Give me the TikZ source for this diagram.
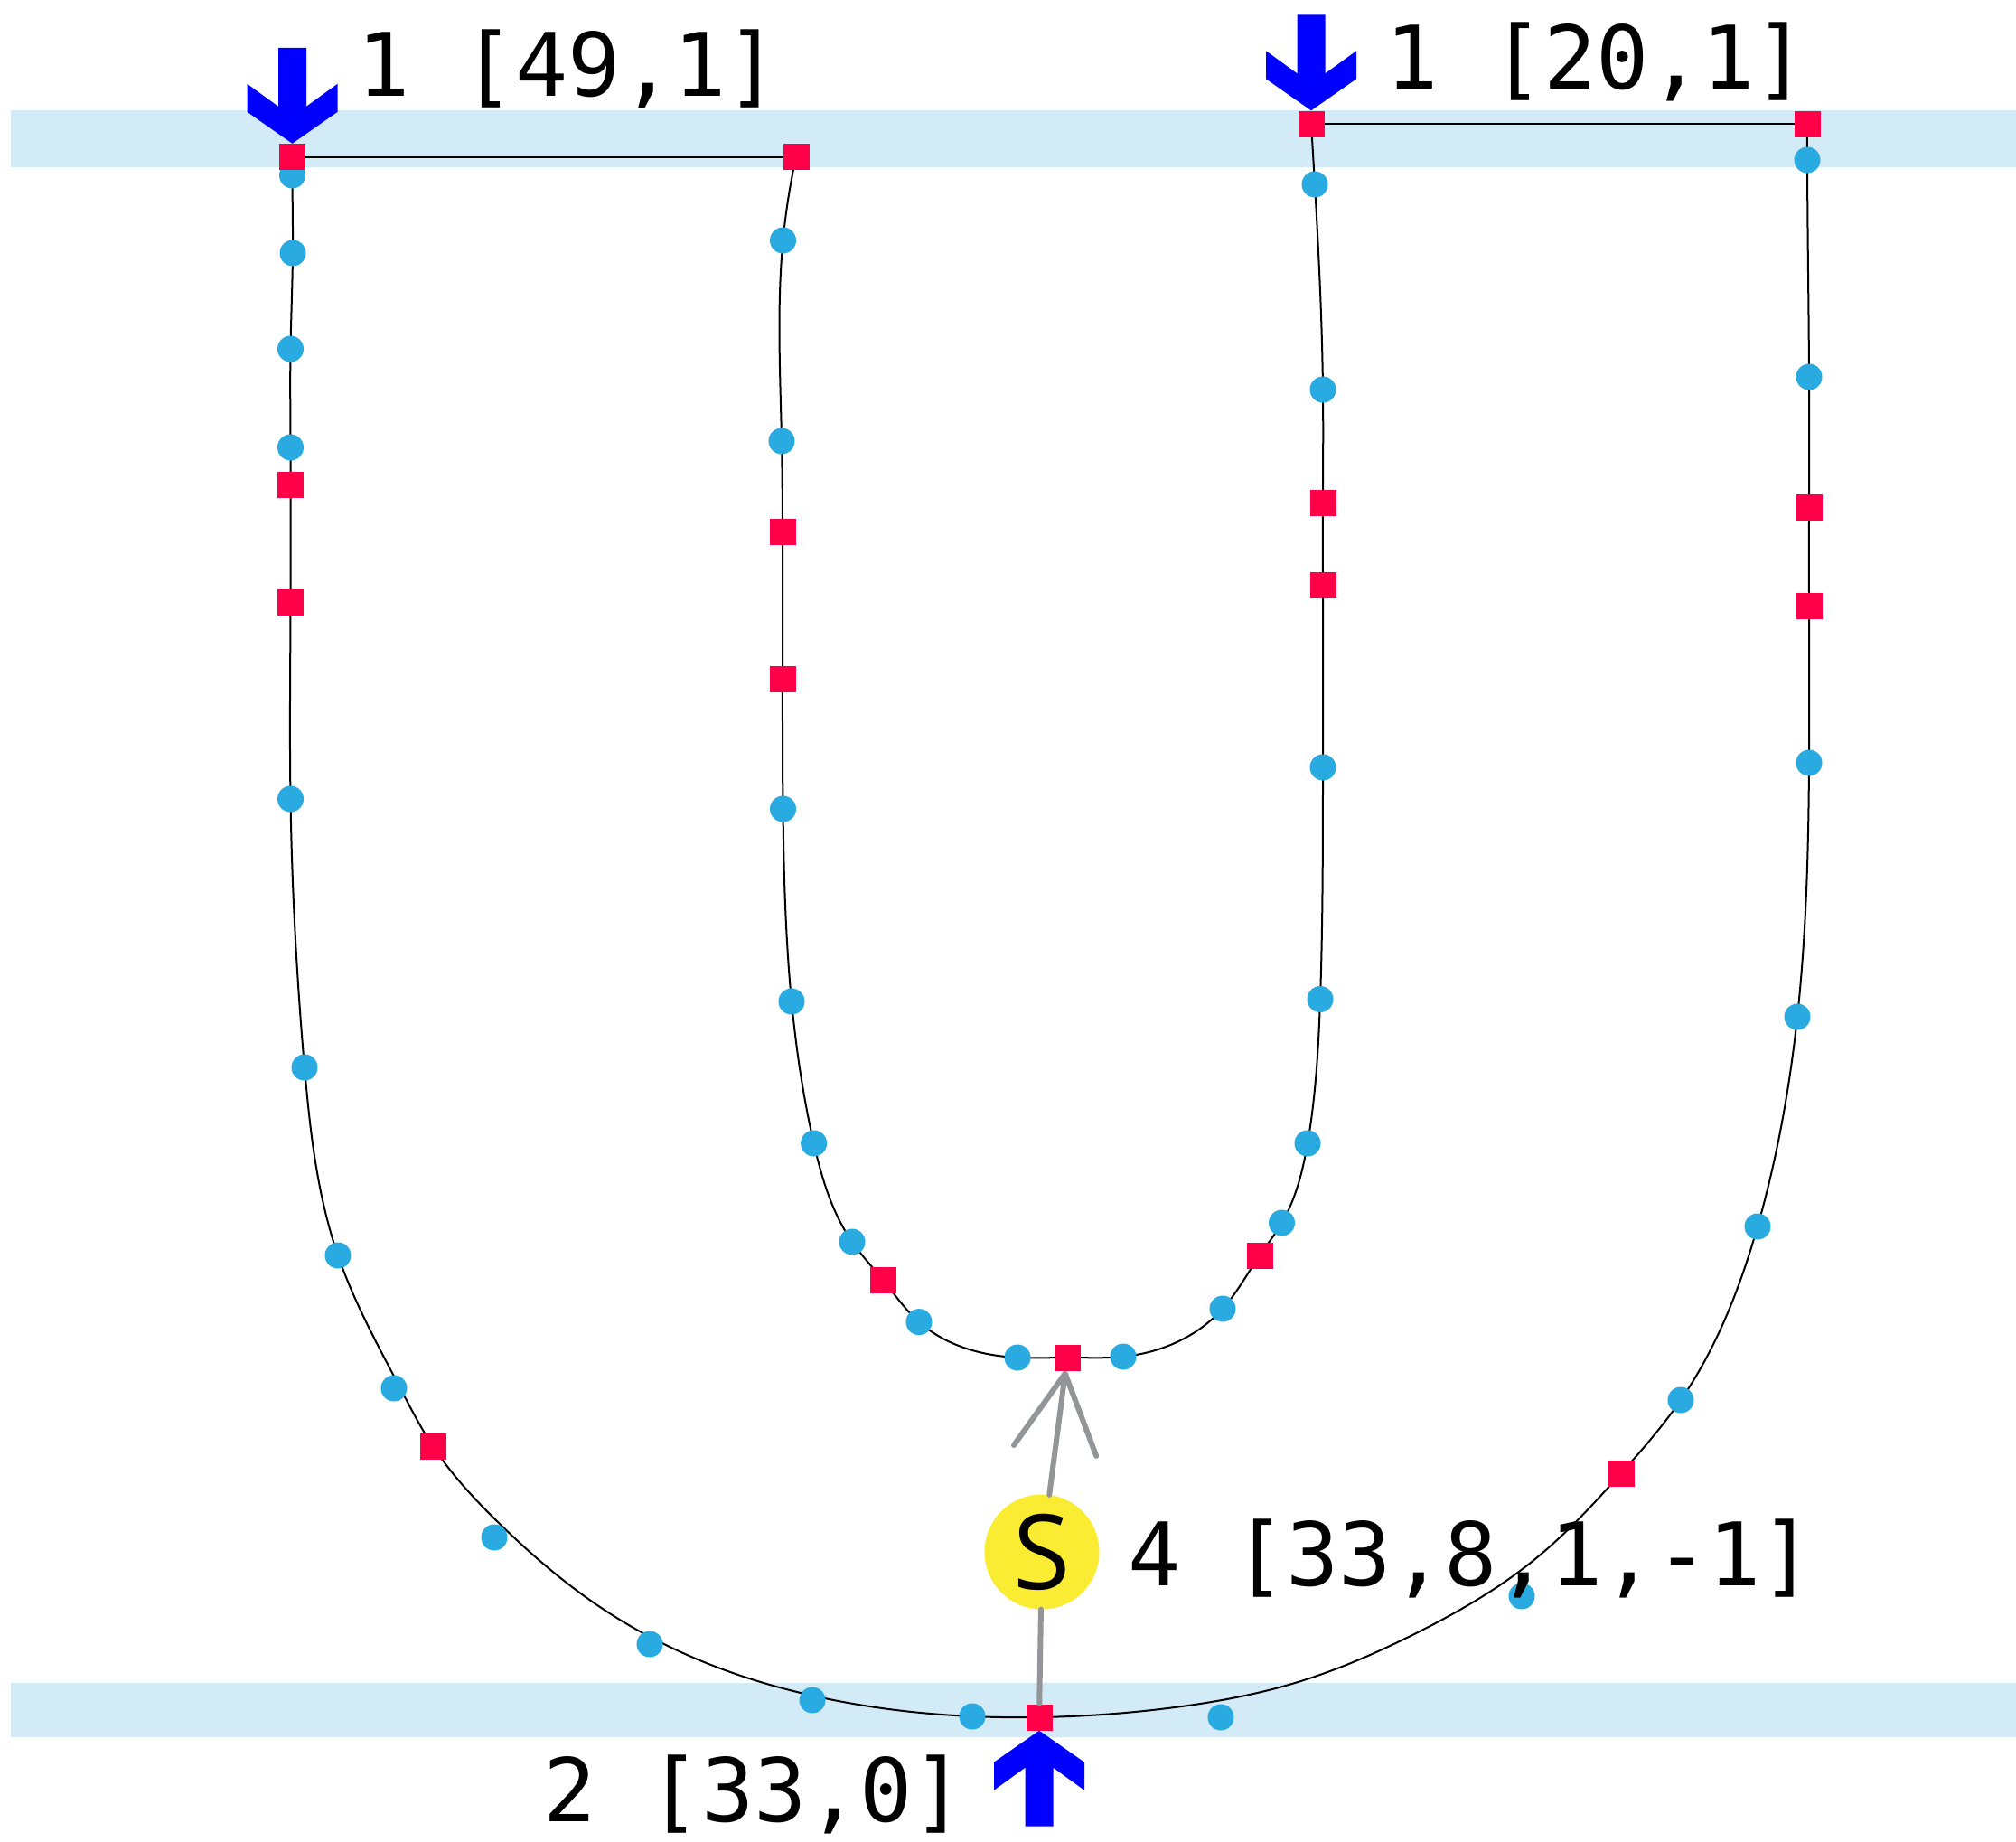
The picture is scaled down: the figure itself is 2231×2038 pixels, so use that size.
\documentclass[tikz,border=0pt]{standalone}
\usepackage{fontspec}
\newfontfamily\monolbl{DejaVu Sans Mono}
\newfontfamily\badgesans{Open Sans}
\usetikzlibrary{arrows.meta,backgrounds,hobby}
\definecolor{band}{RGB}{211,235,247}
\definecolor{dotblue}{RGB}{41,170,225}
\definecolor{sqred}{RGB}{255,0,72}
\definecolor{flowblue}{RGB}{0,0,255}
\definecolor{sunny}{RGB}{249,236,50}
\definecolor{wiregray}{RGB}{147,149,152}
\tikzset{
  bead/.style   = {circle, fill=dotblue, minimum size=29pt, inner sep=0},
  plate/.style  = {rectangle, fill=sqred, minimum size=29pt, inner sep=0},
  track/.style  = {line width=2pt, use Hobby shortcut},
  feed/.style   = {wiregray, line width=6pt, line cap=round},
  src/.style    = {circle, fill=sunny, minimum size=127pt, inner sep=0, font=\badgesans\fontsize{115}{115}\selectfont},
  lbl/.style    = {anchor=base west, inner sep=0, font=\monolbl\fontsize{97}{110}\selectfont},
  inflow/.pic   = {\fill[flowblue] (0,0) -- (50,-35) -- (50,-66) -- (15.5,-41) -- (15.5,-106) -- (-15.5,-106)
                     -- (-15.5,-41) -- (-50,-66) -- (-50,-35) -- cycle;}
}
\begin{document}
\begin{tikzpicture}[x=1pt, y=-1pt]
  \useasboundingbox (0,0) rectangle (2231,2038);

  % beads, inner loop
  \node[bead] (i1)  at (866.5,266) {};  \node[bead] (i2)  at (865,488) {};
  \node[bead] (i5)  at (866.5,895) {};  \node[bead] (i6)  at (876,1108) {};
  \node[bead] (i7)  at (900.6,1265) {}; \node[bead] (i8)  at (943,1374) {};
  \node[bead] (i10) at (1017,1462.6) {};\node[bead] (i11) at (1126,1502) {};
  \node[bead] (i13) at (1243,1501) {};  \node[bead] (i14) at (1353,1448) {};
  \node[bead] (i16) at (1418.5,1353) {};\node[bead] (i17) at (1447,1265) {};
  \node[bead] (i18) at (1461,1105.5) {};\node[bead] (i19) at (1464,849) {};
  \node[bead] (i22) at (1464,431) {};   \node[bead] (i23) at (1455,204) {};

  % beads, outer loop
  \node[bead] (o1)  at (2000,177) {};   \node[bead] (o2)  at (2002,417) {};
  \node[bead] (o5)  at (2002,844) {};   \node[bead] (o6)  at (1989,1125) {};
  \node[bead] (o7)  at (1945,1357) {};  \node[bead] (o8)  at (1860,1549) {};
  \node[bead] (o11) at (1076,1899) {};  \node[bead] (o12) at (899,1881) {};
  \node[bead] (o13) at (719,1819) {};   \node[bead] (o14) at (547,1701) {};
  \node[bead] (o16) at (436,1536) {};   \node[bead] (o17) at (374,1389) {};
  \node[bead] (o18) at (337,1181) {};   \node[bead] (o19) at (321.5,884) {};
  \node[bead] (o22) at (321.5,495) {};  \node[bead] (o23) at (321.5,386) {};
  \node[bead] (o24) at (324,280) {};    \node[bead] (o25) at (323.5,194) {};
  \node[bead] (x1)  at (1351,1900) {};  \node[bead] (x2)  at (1684,1766) {};

  % plates
  \node[plate] (A)   at (323.5,173.5) {}; \node[plate] (B)   at (881,173.5) {};
  \node[plate] (C)   at (1451,137) {};    \node[plate] (D)   at (2000,137) {};
  \node[plate] (i3)  at (866,588) {};     \node[plate] (i4)  at (866,751) {};
  \node[plate] (i9)  at (977,1416) {};    \node[plate] (i12) at (1181,1502) {};
  \node[plate] (i15) at (1394,1389) {};   \node[plate] (i20) at (1464,647) {};
  \node[plate] (i21) at (1464,556) {};
  \node[plate] (o3)  at (2002,561) {};    \node[plate] (o4)  at (2002,670) {};
  \node[plate] (o9)  at (1794,1630) {};   \node[plate] (o10) at (1150,1900) {};
  \node[plate] (o15) at (479,1600) {};    \node[plate] (o20) at (321.5,666) {};
  \node[plate] (o21) at (321.5,536) {};

  % bends of the outer loop
  \coordinate (w1) at (1700,1724); \coordinate (w2) at (1567,1807);
  \coordinate (w3) at (1433,1862); \coordinate (w4) at (1300,1889);
  \coordinate (p1) at (443,1536);  \coordinate (p2) at (553,1686);
  \coordinate (p3) at (667,1780);  \coordinate (p4) at (800,1847);
  \coordinate (p5) at (899,1876);

  \begin{scope}[on background layer]
    \fill[band] (12,122) rectangle (2231,185);
    \fill[band] (12,1862) rectangle (2231,1922);
    \draw[line width=2pt] (A.center) -- (B.center);
    \draw[line width=2pt] (C.center) -- (D.center);
    \draw[track] (B.center) .. (i1.center) .. (i2.center) .. (i3.center) .. (i4.center) .. (i5.center)
      .. (i6.center) .. (i7.center) .. (i8.center) .. (i9.center) .. (i10.center) .. (i11.center)
      .. (i12.center) .. (i13.center) .. (i14.center) .. (i15.center) .. (i16.center) .. (i17.center)
      .. (i18.center) .. (i19.center) .. (i20.center) .. (i21.center) .. (i22.center) .. (i23.center)
      .. (C.center);
    \draw[track] (D.center) .. (o1.center) .. (o2.center) .. (o3.center) .. (o4.center) .. (o5.center)
      .. (o6.center) .. (o7.center) .. (o8.center) .. (o9.center) .. (w1) .. (w2) .. (w3) .. (w4)
      .. (o10.center) .. (o11.center) .. (p5) .. (p4) .. (p3) .. (p2) .. (o15.center)
      .. (p1) .. (o17.center) .. (o18.center) .. (o19.center) .. (o20.center) .. (o21.center)
      .. (o22.center) .. (o23.center) .. (o24.center) .. (o25.center) .. (A.center);
  \end{scope}

  \node[src] (S) at (1153,1717) {S};
  \draw[feed, -{Straight Barb[length=86pt, width=92pt, round]}] (S) -- (i12);
  \draw[feed] (S) -- (o10);

  \pic at (A.north) {inflow};
  \pic at (C.north) {inflow};
  \pic[rotate=180] at (o10.south) {inflow};

  \node[lbl] (l1) at (395,106)   {1 [49,1]};
  \node[lbl] (l2) at (1533,98)   {1 [20,1]};
  \node[lbl] (l3) at (1248,1754) {4 [33,8,1,-1]};
  \node[lbl] (l4) at (601,2015)  {2 [33,0]};
\end{tikzpicture}
\end{document}
